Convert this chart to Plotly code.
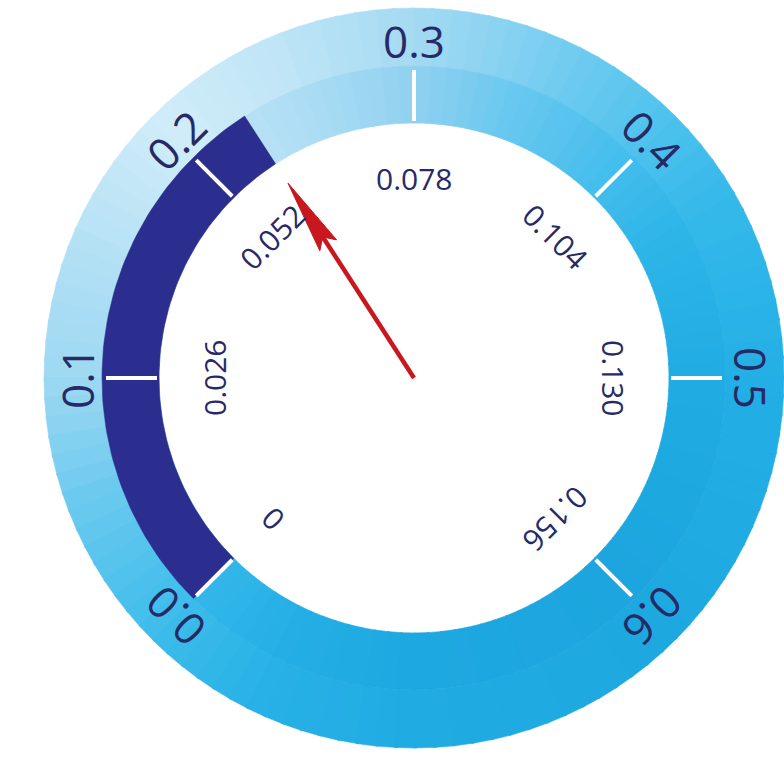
import numpy as np
import plotly.graph_objects as go

# Outer scale (ring) and inner scale (white dial) of the gauge
outer_ticks = [0.0, 0.1, 0.2, 0.3, 0.4, 0.5, 0.6]
outer_labels = ["0.0", "0.1", "0.2", "0.3", "0.4", "0.5", "0.6"]
inner_ticks = [0.0, 0.026, 0.052, 0.078, 0.104, 0.130, 0.156]
inner_labels = ["0", "0.026", "0.052", "0.078", "0.104", "0.130", "0.156"]
reading = 0.059  # current reading on the inner scale

SCALE_MAX = 0.6
INNER_MAX = 0.156
START_DEG = 225.0
SWEEP_DEG = 270.0

R_IN, R_MID, R_OUT = 255, 312, 370
NAVY = "#2b2e8e"
INK = "#262a66"
RED = "#c8171e"

W, H = 784, 757
CX, CY = 414, 378  # dial centre in pixels from the top-left corner


def angle_of(v):
    return START_DEG - v / SCALE_MAX * SWEEP_DEG


def inner_to_outer(u):
    return u * SCALE_MAX / INNER_MAX


def pol(r, deg):
    t = np.radians(deg)
    return r * np.cos(t), r * np.sin(t)


def wedge(r0, r1, a0, a1, n=12):
    a = np.linspace(a0, a1, n)
    xo, yo = pol(r1, a)
    xi, yi = pol(r0, a[::-1])
    return np.r_[xo, xi, xo[0]], np.r_[yo, yi, yo[0]]


def hex_rgb(h):
    h = h.lstrip("#")
    return np.array([int(h[i:i + 2], 16) for i in (0, 2, 4)], float)


# colour of the ring around the dial (angle in degrees -> colour)
grad_outer = [(-225, "#d0ecf8"), (-200, "#b2e0f5"), (-180, "#9dd8f2"),
              (-160, "#6ccaef"), (-135, "#3dbcea"), (-115, "#27b1e6"),
              (-90, "#20abe3"), (-45, "#1ea8e0"), (0, "#23afe5"),
              (30, "#35b9ea"), (45, "#4cc1ed"), (70, "#7dcff1"),
              (90, "#a4daf2"), (115, "#c2e6f7"), (135, "#d0ecf8")]
grad_inner = [(-225, "#c0e5f6"), (-200, "#a0d9f3"), (-180, "#88d0f0"),
              (-160, "#5cc5ee"), (-135, "#33b7e9"), (-115, "#24aee5"),
              (-90, "#1ea8e1"), (-45, "#1ca5de"), (0, "#20ace3"),
              (30, "#2eb5e8"), (45, "#42bdec"), (70, "#68c8ef"),
              (90, "#90d1f0"), (115, "#b0def5"), (135, "#c0e5f6")]


def grad_color(stops, deg):
    angs = [s[0] for s in stops]
    cols = [hex_rgb(s[1]) for s in stops]
    c = np.array([np.interp(deg, angs, [cc[k] for cc in cols]) for k in range(3)])
    return "rgb(%d,%d,%d)" % tuple(np.round(c))


fig = go.Figure()

# gradient ring, drawn as thin wedges in two bands
step = 3
for a0 in np.arange(-225, 135, step):
    a1 = a0 + step + 0.4
    mid = a0 + step / 2
    for r0, r1, stops in ((R_MID, R_OUT, grad_outer), (R_IN, R_MID, grad_inner)):
        col = grad_color(stops, mid)
        x, y = wedge(r0, r1, a0, a1, n=4)
        fig.add_trace(go.Scatter(x=x, y=y, mode="lines", fill="toself",
                                 fillcolor=col, line=dict(color=col, width=0.6),
                                 hoverinfo="skip"))

# reading bar along the inner band
bar_end = angle_of(inner_to_outer(reading))
x, y = wedge(R_IN, R_MID, bar_end, START_DEG, n=80)
fig.add_trace(go.Scatter(x=x, y=y, mode="lines", fill="toself",
                         fillcolor=NAVY, line=dict(color=NAVY, width=0.5),
                         hoverinfo="skip"))

# white tick marks for the outer scale
for v in outer_ticks:
    a = angle_of(v)
    xa, ya = pol(R_IN + 2, a)
    xb, yb = pol(R_MID - 4, a)
    fig.add_trace(go.Scatter(x=[xa, xb], y=[ya, yb], mode="lines",
                             line=dict(color="white", width=4), hoverinfo="skip"))

# needle: shaft plus arrow head
a = bar_end
tip_r, head_r, notch_r, half_w = 232, 158, 168, 10
ux, uy = np.cos(np.radians(a)), np.sin(np.radians(a))
px, py = -uy, ux
sx, sy = pol(notch_r + 2, a)
fig.add_trace(go.Scatter(x=[0, sx], y=[0, sy], mode="lines",
                         line=dict(color=RED, width=4.5), hoverinfo="skip"))
hx = [tip_r * ux, head_r * ux + half_w * px, notch_r * ux, head_r * ux - half_w * px, tip_r * ux]
hy = [tip_r * uy, head_r * uy + half_w * py, notch_r * uy, head_r * uy - half_w * py, tip_r * uy]
fig.add_trace(go.Scatter(x=hx, y=hy, mode="lines", fill="toself", fillcolor=RED,
                         line=dict(color=RED, width=1), hoverinfo="skip"))


def tangent_angle(deg):
    t = 90 - deg
    while t > 180:
        t -= 360
    while t <= -180:
        t += 360
    return t


annotations = []
for v, lab in zip(outer_ticks, outer_labels):
    a = angle_of(v)
    x, y = pol(337, a)
    annotations.append(dict(x=x, y=y, xref="x", yref="y", text=lab, showarrow=False,
                            textangle=tangent_angle(a), borderpad=0,
                            font=dict(family="Open Sans", size=44, color=INK)))
for u, lab in zip(inner_ticks, inner_labels):
    a = angle_of(inner_to_outer(u))
    x, y = pol(200, a)
    annotations.append(dict(x=x, y=y, xref="x", yref="y", text=lab, showarrow=False,
                            textangle=tangent_angle(a),
                            font=dict(family="Open Sans", size=30, color=INK)))

fig.update_layout(
    width=W, height=H,
    margin=dict(l=0, r=0, t=0, b=0),
    paper_bgcolor="white", plot_bgcolor="white",
    showlegend=False,
    annotations=annotations,
    xaxis=dict(range=[-CX, W - CX], visible=False, fixedrange=True),
    yaxis=dict(range=[-(H - CY), CY], visible=False, fixedrange=True),
)

fig.write_html("out.html")
